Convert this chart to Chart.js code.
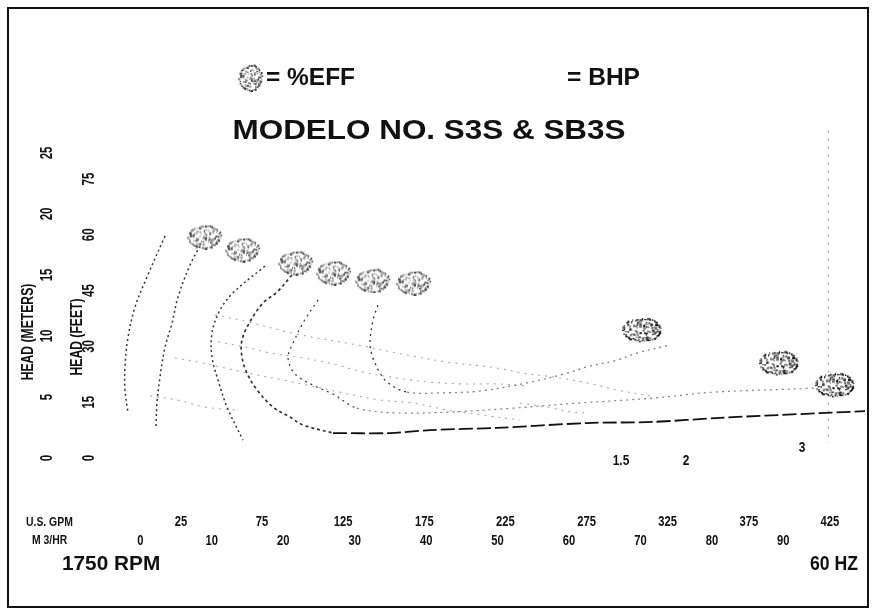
<!DOCTYPE html>
<html><head><meta charset="utf-8">
<script src="https://cdn.jsdelivr.net/npm/chart.js@4.4.1/dist/chart.umd.min.js"></script>
<style>html,body{margin:0;padding:0;background:#fff}canvas{display:block}</style>
</head><body>
<canvas id="c" width="878" height="615"></canvas>
<script>
// ---- tick labels ----
const gpmTicks = [25,75,125,175,225,275,325,375,425];
const m3hrTicks = [0,10,20,30,40,50,60,70,80,90];
const headMeterTicks = [0,5,10,15,20,25];
const headFeetTicks = [0,15,30,45,60,75];

// ---- efficiency contours (U.S. GPM, head ft) ----
const effA_gpm = [15.2,4.1,-3.3,-7.6,-9.5,-9.5,-7.6];
const effA_ft  = [59.7,48.7,40.6,32.5,24.5,18.3,12.1];
const effB_gpm = [36.7,30.6,23.2,19.5,15.2,12.1,10.2,9.6];
const effB_ft  = [57.0,51.9,43.3,36.3,29.8,21.8,14.8,8.1];
const effC_gpm = [76.8,57.1,49.1,44.1,44.1,47.8,53.4,63.2];
const effC_ft  = [51.6,44.4,39.8,33.6,27.2,21.0,13.7,4.8];
const effD_gpm = [93.4,84.2,75.6,67.5,62.6,62.6,65.7,71.9,81.7,92.2,100.2,118.7];
const effD_ft  = [49.2,44.6,41.7,36.6,31.7,27.2,22.8,18.3,13.7,11.0,8.9,6.7];
const effE_gpm = [146.4,143.4,141.5,142.7,144.6,147.7,152.6,164.3,184.7,209.3,238.3,262.9,275.3,293.7,306.1,326.4];
const effE_ft  = [41.1,37.1,30.9,27.7,25.5,22.8,20.2,17.7,17.5,18.0,20.2,22.8,24.5,26.3,28.2,30.4];
const effF_gpm = [109.5,100.2,94.1,91.0,93.4,98.4,108.8,118.7,133.5,160.0,192.7,229.6,270.9,315.9,352.9,414.5,420.1];
const effF_ft  = [42.5,36.3,30.9,27.2,23.7,21.5,19.1,17.2,13.4,12.1,12.4,13.4,14.8,16.1,17.7,18.8,19.4];

// ---- head-capacity curves ----
const minHead_gpm = [118.7,153.8,178.5,219.8,275.3,315.9,357.1,446.6];
const minHead_ft  = [6.7,6.7,7.5,8.1,9.4,9.7,10.8,12.6];
const h1_gpm = [46.0,61.4,96.5,133.5,164.3,189.0,219.8,235.8,254.3,275.3,293.7,314.1];
const h1_ft  = [38.4,37.1,33.3,30.4,27.7,25.8,24.2,22.8,21.8,20.2,18.3,16.7];
const h2_gpm = [47.8,67.5,76.8,100.2,118.7,137.2,158.2,178.5,198.8,219.8,238.3];
const h2_ft  = [31.2,29.6,28.5,26.9,25.3,23.1,21.5,20.4,19.9,19.9,19.4];
const h3_gpm = [21.3,35.5,52.1,71.9,87.9,102.7,123.0,147.7,168.0,189.0,209.3,234.0];
const h3_ft  = [26.9,25.8,24.2,22.3,21.0,19.6,17.7,15.6,14.8,12.9,11.6,10.2];
const h4_gpm = [5.9,22.6,39.8,58.3];
const h4_ft  = [16.7,15.6,13.7,12.9];
const h5_gpm = [234.0,254.3,264.8,275.3];
const h5_ft  = [14.8,13.4,12.4,12.1];

// ---- max flow line ----
const maxFlow_gpm = [424,424];
const maxFlow_ft  = [88,4];

// ---- efficiency label marks ----
const effMark_gpm = [39.8,63.2,95.9,119.3,143.4,168.6,309.2,393.6,428.1];
const effMark_ft  = [59.4,55.9,52.4,49.7,47.6,47.0,34.4,25.5,19.6];

// ---- BHP labels ----
const bhpLabels = ['1.5','2','3'];
const bhp_gpm = [296.2,336.3,407.8];
const bhp_ft  = [-0.8,-0.8,2.7];

const GPM_TO_M3H = 0.22712, FT_TO_M = 0.3048;
const X_MIN = -20, X_MAX = 450, Y_MIN = -10, Y_MAX = 90;

function zip(xs, ys){ return xs.map((x,i)=>({x:x, y:ys[i]})); }

// stippled mark texture (decorative)
function makeMark(w, h, dark){
  const c = document.createElement('canvas'); c.width = w; c.height = h;
  const g = c.getContext('2d');
  let s = dark ? 7 : 3;
  const r = () => { s = (s * 16807) % 2147483647; return s / 2147483647; };
  const cx = w/2, cy = h/2, rx = w/2 - 1.5, ry = h/2 - 1.5;
  for (let a = 0; a < Math.PI*2; a += 0.14){
    const k = 0.85 + r()*0.2;
    g.fillStyle = dark ? (r() < 0.75 ? '#111' : '#555') : (r() < 0.55 ? '#444' : '#999');
    g.fillRect(cx + Math.cos(a)*rx*k - 1, cy + Math.sin(a)*ry*k - 1, 1 + r()*2, 1 + r()*1.5);
  }
  const n = dark ? 80 : 60;
  for (let i = 0; i < n; i++){
    const a = r()*Math.PI*2, d = Math.sqrt(r());
    g.fillStyle = dark ? (r() < 0.5 ? '#222' : '#777') : (r() < 0.4 ? '#555' : '#aaa');
    g.fillRect(cx + Math.cos(a)*rx*d*0.8, cy + Math.sin(a)*ry*d*0.8, 1 + r()*1.5, 1 + r()*1.5);
  }
  return c;
}
const markLight = makeMark(36, 25, false);
const markDark = makeMark(40, 26, true);
const markLegend = makeMark(26, 28, false);

const DARK = '#333', MID = '#808080', LIGHT = '#ababab';
function line(label, xs, ys, opts){
  return Object.assign({
    label: label, data: zip(xs, ys), showLine: true, pointRadius: 0,
    borderColor: DARK, borderWidth: 1.5, borderDash: [2,3], tension: 0.35,
    fill: false, clip: false
  }, opts || {});
}

const datasets = [
  { label: '%EFF', data: zip(effMark_gpm, effMark_ft), showLine: false,
    pointStyle: (ctx) => ctx.dataIndex >= 6 ? markDark : markLight, clip: false },
  line('EFF A', effA_gpm, effA_ft),
  line('EFF B', effB_gpm, effB_ft),
  line('EFF C', effC_gpm, effC_ft),
  line('EFF D', effD_gpm, effD_ft, { borderWidth: 1.7, borderDash: [3,3] }),
  line('EFF E', effE_gpm, effE_ft, { borderWidth: 1.3, borderDash: [2,4],
    segment: { borderColor: c => c.p0DataIndex < 7 ? DARK : MID } }),
  line('EFF F', effF_gpm, effF_ft, { borderWidth: 1.2, borderDash: [2,4],
    segment: { borderColor: c => c.p0DataIndex < 8 ? DARK : MID } }),
  line('MIN HEAD', minHead_gpm, minHead_ft, { borderColor: '#111', borderWidth: 1.8, borderDash: [14,4], tension: 0.3 }),
  line('H1', h1_gpm, h1_ft, { borderColor: LIGHT, borderWidth: 1.1, borderDash: [2,5] }),
  line('H2', h2_gpm, h2_ft, { borderColor: LIGHT, borderWidth: 1.1, borderDash: [2,5] }),
  line('H3', h3_gpm, h3_ft, { borderColor: LIGHT, borderWidth: 1.1, borderDash: [2,5] }),
  line('H4', h4_gpm, h4_ft, { borderColor: LIGHT, borderWidth: 1.1, borderDash: [2,5] }),
  line('H5', h5_gpm, h5_ft, { borderColor: LIGHT, borderWidth: 1.1, borderDash: [2,5] }),
  line('MAX', maxFlow_gpm, maxFlow_ft, { borderColor: '#999', borderWidth: 1, borderDash: [2,6], tension: 0 })
];

const SANS = '"Liberation Sans",Arial,Helvetica,sans-serif';

// draw text with a horizontal squeeze (condensed look); k = width factor
function sqText(g, txt, x, y, font, k, align){
  g.save(); g.font = font; g.textBaseline = 'middle';
  const w = g.measureText(txt).width * k;
  let left = x;
  if (align === 'center') left = x - w/2;
  else if (align === 'right') left = x - w;
  g.translate(left, y); g.scale(k, 1); g.textAlign = 'left';
  g.fillText(txt, 0, 0); g.restore();
}
function fitText(g, txt, x, y, font, targetW, align){
  g.save(); g.font = font; const w = g.measureText(txt).width; g.restore();
  sqText(g, txt, x, y, font, targetW / w, align);
}
function rotText(g, txt, x, y, font, k){
  g.save(); g.translate(x, y); g.rotate(-Math.PI/2);
  sqText(g, txt, 0, 0, font, k, 'center'); g.restore();
}

const decor = {
  id: 'decor',
  beforeDraw(chart){
    const g = chart.ctx; g.save(); g.fillStyle = '#fff';
    g.fillRect(0, 0, chart.width, chart.height); g.restore();
  },
  afterDraw(chart){
    const g = chart.ctx, sc = chart.scales;
    g.save();
    g.fillStyle = '#111';
    // frame
    g.strokeStyle = '#111'; g.lineWidth = 2;
    g.strokeRect(8, 8, 860, 599);
    // legend
    g.drawImage(markLegend, 251 - 13, 78 - 14);
    fitText(g, '= %EFF', 266, 79, 'bold 23px ' + SANS, 89, 'left');
    fitText(g, '= BHP', 567, 79, 'bold 23px ' + SANS, 73, 'left');
    // title
    fitText(g, 'MODELO NO. S3S & SB3S', 429, 131, 'bold 28px ' + SANS, 393, 'center');
    // y ticks (rotated)
    const tf = 'bold 16px ' + SANS;
    headMeterTicks.forEach(v => rotText(g, String(v), 48, sc.y2.getPixelForValue(v), tf, 0.72));
    headFeetTicks.forEach(v => rotText(g, String(v), 90, sc.y.getPixelForValue(v), tf, 0.72));
    rotText(g, 'HEAD (METERS)', 29, 332, 'bold 16px ' + SANS, 0.76);
    rotText(g, 'HEAD (FEET)', 78, 337, 'bold 16px ' + SANS, 0.76);
    // x ticks
    const xf = 'bold 14px ' + SANS;
    gpmTicks.forEach(v => sqText(g, String(v), sc.x.getPixelForValue(v), 522, xf, 0.8, 'center'));
    m3hrTicks.forEach(v => sqText(g, String(v), sc.x2.getPixelForValue(v), 541, xf, 0.8, 'center'));
    sqText(g, 'U.S. GPM', 26, 522, 'bold 13px ' + SANS, 0.8, 'left');
    sqText(g, 'M 3/HR', 32, 540, 'bold 13px ' + SANS, 0.8, 'left');
    // BHP labels
    bhpLabels.forEach((t, i) => sqText(g, t, sc.x.getPixelForValue(bhp_gpm[i]), sc.y.getPixelForValue(bhp_ft[i]), xf, 0.85, 'center'));
    // footer
    sqText(g, '1750 RPM', 62, 564, 'bold 21px ' + SANS, 0.99, 'left');
    sqText(g, '60 HZ', 858, 564, 'bold 21px ' + SANS, 0.84, 'right');
    g.restore();
  }
};

// chart area chosen so that 0 gpm / 0 ft fall on the printed grid
const pxPerGpm = 1.6225, zeroX = 140.4, zeroY = 458, pxPerFt = 3.72;
const padLeft = zeroX + X_MIN * pxPerGpm;
const padRight = 878 - (zeroX + X_MAX * pxPerGpm);
const padTop = zeroY - Y_MAX * pxPerFt;
const padBottom = 615 - (zeroY - Y_MIN * pxPerFt);

new Chart(document.getElementById('c'), {
  type: 'scatter',
  data: { datasets: datasets },
  options: {
    responsive: false, animation: false, events: [],
    layout: { padding: { left: padLeft, right: padRight, top: padTop, bottom: padBottom }, autoPadding: false },
    plugins: { legend: { display: false }, tooltip: { enabled: false } },
    scales: {
      x:  { type: 'linear', min: X_MIN, max: X_MAX, display: false },
      x2: { type: 'linear', axis: 'x', position: 'bottom', min: X_MIN * GPM_TO_M3H, max: X_MAX * GPM_TO_M3H, display: false },
      y:  { type: 'linear', min: Y_MIN, max: Y_MAX, display: false },
      y2: { type: 'linear', axis: 'y', position: 'left', min: Y_MIN * FT_TO_M, max: Y_MAX * FT_TO_M, display: false }
    }
  },
  plugins: [decor]
});
</script>
</body></html>
